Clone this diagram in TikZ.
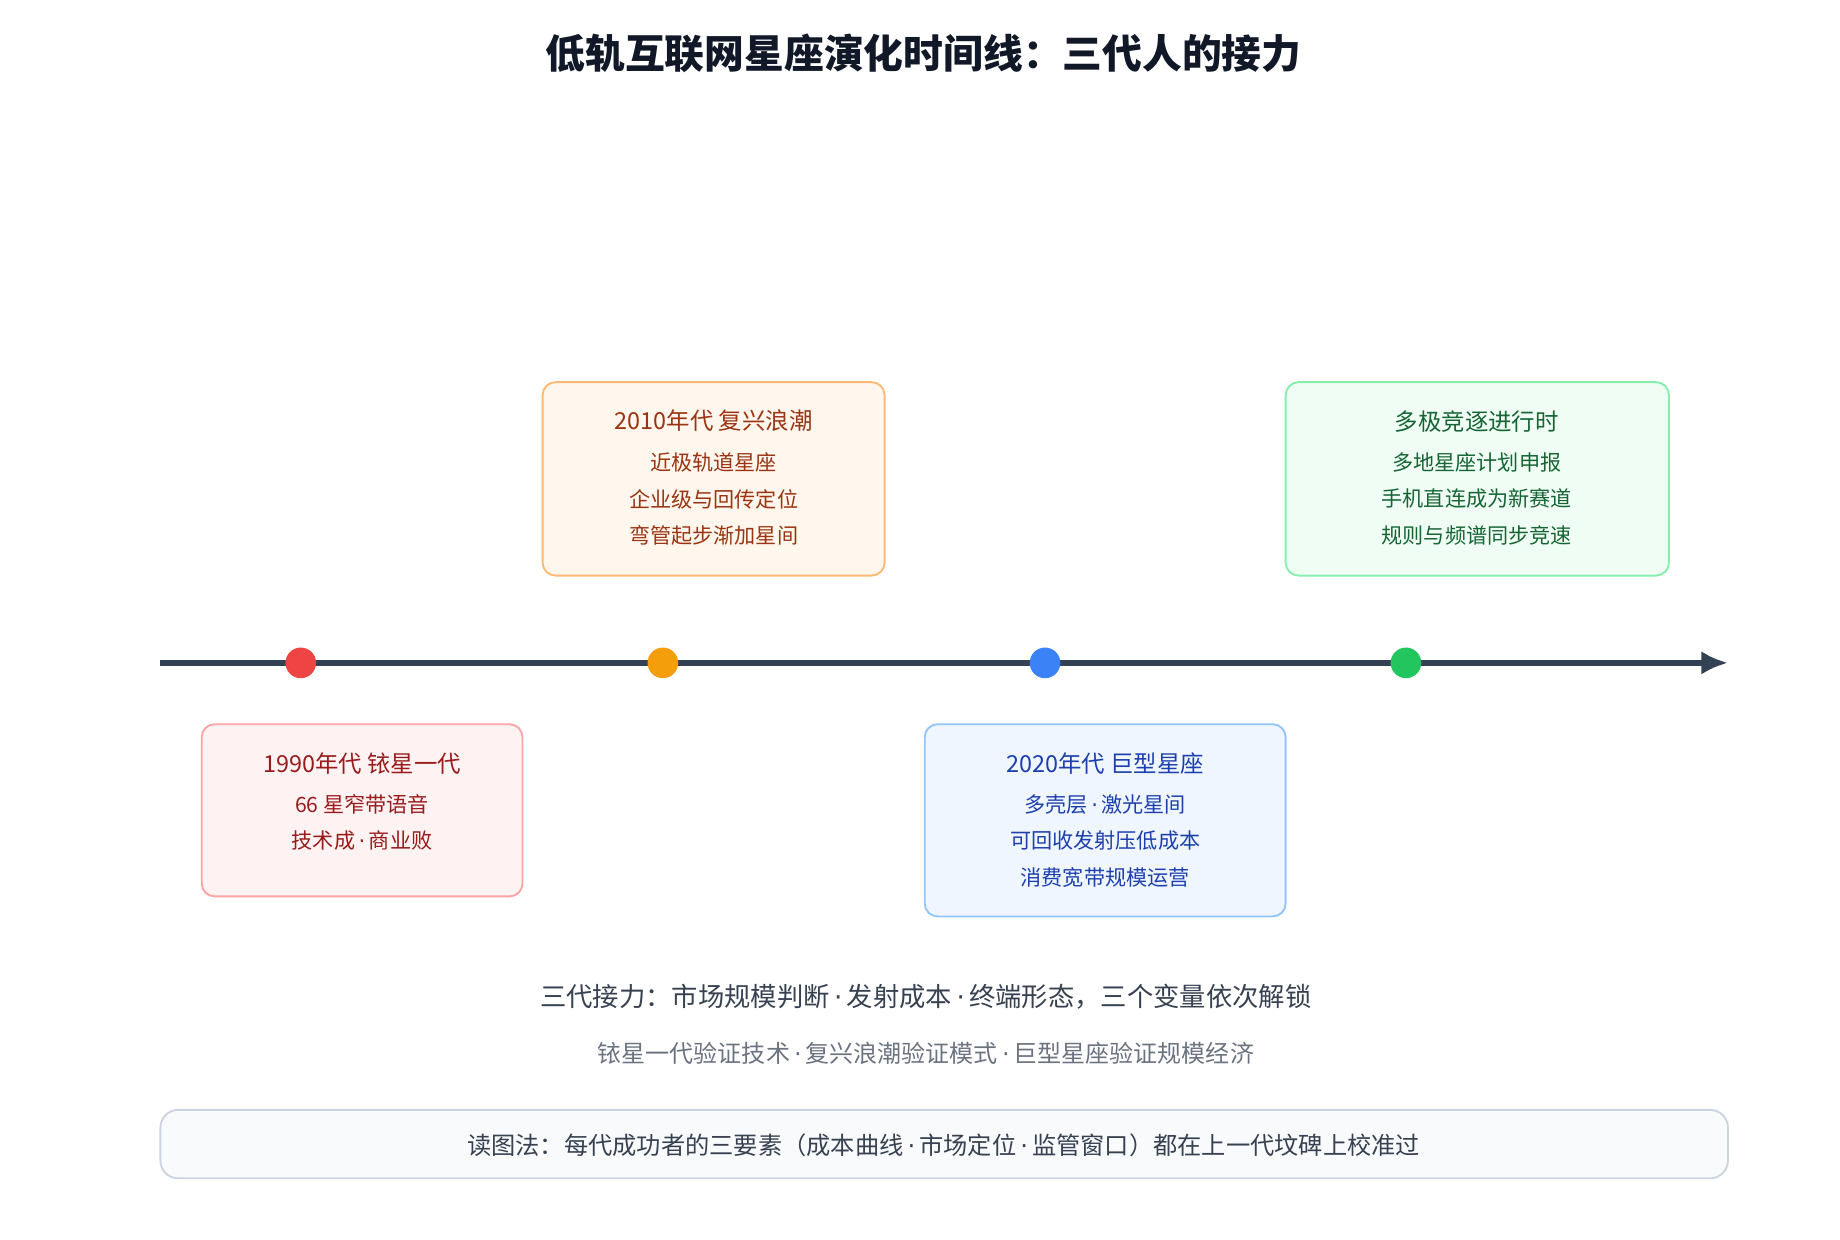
\documentclass[tikz,border=0pt]{standalone}
\usepackage{fontspec}
\setmainfont{Noto Sans CJK SC}
\newfontfamily\dotfont{DejaVu Sans}
\newcommand{\md}{\,{\dotfont·}\,}
\usetikzlibrary{arrows.meta,positioning}
\definecolor{axisc}{HTML}{334155}\definecolor{titlec}{HTML}{111827}
\definecolor{noteb}{HTML}{CBD5E1}\definecolor{notef}{HTML}{F8FAFC}
\definecolor{redd}{HTML}{EF4444}\definecolor{redf}{HTML}{FEF2F2}\definecolor{redb}{HTML}{FCA5A5}\definecolor{redt}{HTML}{991B1B}
\definecolor{orad}{HTML}{F59E0B}\definecolor{oraf}{HTML}{FFF7ED}\definecolor{orab}{HTML}{FDBA74}\definecolor{orat}{HTML}{9A3412}
\definecolor{blud}{HTML}{3B82F6}\definecolor{bluf}{HTML}{EFF6FF}\definecolor{blub}{HTML}{93C5FD}\definecolor{blut}{HTML}{1E40AF}
\definecolor{grnd}{HTML}{22C55E}\definecolor{grnf}{HTML}{F0FDF4}\definecolor{grnb}{HTML}{86EFAC}\definecolor{grnt}{HTML}{166534}
\definecolor{darkt}{HTML}{374151}\definecolor{grayt}{HTML}{6B7280}
\tikzset{>=Latex}
\tikzset{dot/.style={circle,inner sep=0pt,minimum size=0.52cm},
  era/.style={draw=#1b,fill=#1f,line width=0.9pt,rounded corners=0.22cm},
  hd/.style={font=\fontsize{11.3}{13}\selectfont,text=#1t},
  ln/.style={font=\fontsize{10.2}{12}\selectfont,text=#1t}}
\begin{document}
\begin{tikzpicture}[x=0.02cm,y=-0.02cm]
\useasboundingbox (0,0) rectangle (1560,1051);
\node[font=\fontsize{19.2}{23}\selectfont\bfseries,text=titlec] (title) at (783,45) {低轨互联网星座演化时间线：三代人的接力};

% axis and dots
\coordinate (axs) at (136,562);
\coordinate (axe) at (1465,562);
\draw[axisc,line width=2.6pt,-{Latex[length=0.45cm,width=0.4cm]}] (axs) -- (axe);
\node[dot,fill=redd] (d1) at (255,562) {};
\node[dot,fill=orad] (d2) at (562,562) {};
\node[dot,fill=blud] (d3) at (886,562) {};
\node[dot,fill=grnd] (d4) at (1192,562) {};

% era boxes
\draw[era=ora] (460,324) rectangle (750,488);
\node[hd=ora] (h2) at (605,357) {2010年代 复兴浪潮};
\node[ln=ora] (a2) at (605,392) {近极轨道星座};
\node[ln=ora] (b2) at (605,423) {企业级与回传定位};
\node[ln=ora] (c2) at (605,454) {弯管起步渐加星间};

\draw[era=grn] (1090,324) rectangle (1415,488);
\node[hd=grn] (h4) at (1252,357) {多极竞逐进行时};
\node[ln=grn] (a4) at (1252,392) {多地星座计划申报};
\node[ln=grn] (b4) at (1252,423) {手机直连成为新赛道};
\node[ln=grn] (c4) at (1252,454) {规则与频谱同步竞速};

\draw[era=red] (171,614) rectangle (443,760);
\node[hd=red] (h1) at (307,647) {1990年代 铱星一代};
\node[ln=red] (a1) at (307,682) {66 星窄带语音};
\node[ln=red] (b1) at (307,713) {技术成\md 商业败};

\draw[era=blu] (784,614) rectangle (1090,777);
\node[hd=blu] (h3) at (937,647) {2020年代 巨型星座};
\node[ln=blu] (a3) at (937,682) {多壳层\md 激光星间};
\node[ln=blu] (b3) at (937,713) {可回收发射压低成本};
\node[ln=blu] (c3) at (937,744) {消费宽带规模运营};

% summary
\node[font=\fontsize{12.7}{15}\selectfont,text=darkt] (sum) at (785,845) {三代接力：市场规模判断\md 发射成本\md 终端形态，三个变量依次解锁};
\node[font=\fontsize{11.6}{14}\selectfont,text=grayt] (sub) at (785,893) {铱星一代验证技术\md 复兴浪潮验证模式\md 巨型星座验证规模经济};
\draw[draw=noteb,fill=notef,line width=0.9pt,rounded corners=0.3cm] (136,941) rectangle (1465,999);
\node[font=\fontsize{11.7}{14}\selectfont,text=darkt] (read) at (800,971) {读图法：每代成功者的三要素（成本曲线\md 市场定位\md 监管窗口）都在上一代坟碑上校准过};
\end{tikzpicture}
\end{document}
